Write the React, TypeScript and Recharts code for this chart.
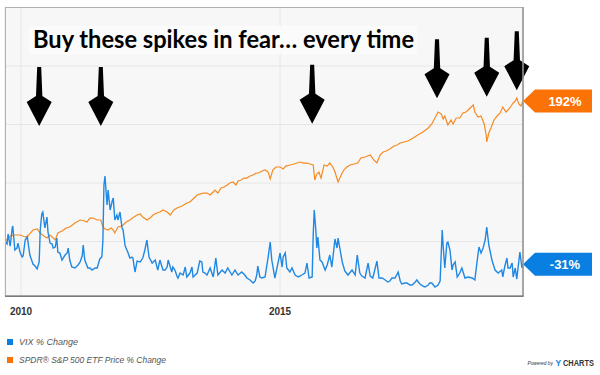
import React from 'react';
import { LineChart, Line, XAxis, YAxis, CartesianGrid, ReferenceDot } from 'recharts';

// ---------- data (decimal years, % change) ----------
const spxDates = [
  2009.69, 2009.79, 2009.88, 2009.98, 2010.08, 2010.13, 2010.23, 2010.31, 2010.37, 2010.44,
  2010.50, 2010.56, 2010.66, 2010.71, 2010.79, 2010.87, 2010.94, 2011.04, 2011.14, 2011.22,
  2011.27, 2011.33, 2011.39, 2011.47, 2011.54, 2011.58, 2011.62, 2011.68, 2011.74, 2011.78,
  2011.81, 2011.87, 2011.95, 2012.03, 2012.10, 2012.18, 2012.24, 2012.30, 2012.35, 2012.43,
  2012.49, 2012.55, 2012.62, 2012.68, 2012.74, 2012.82, 2012.88, 2012.95, 2013.01, 2013.11,
  2013.20, 2013.26, 2013.34, 2013.40, 2013.45, 2013.53, 2013.59, 2013.65, 2013.71, 2013.74,
  2013.80, 2013.86, 2013.92, 2013.98, 2014.03, 2014.09, 2014.15, 2014.19, 2014.25, 2014.30,
  2014.36, 2014.42, 2014.48, 2014.54, 2014.59, 2014.65, 2014.71, 2014.77, 2014.81, 2014.86,
  2014.92, 2015.00, 2015.06, 2015.11, 2015.19, 2015.27, 2015.33, 2015.39, 2015.46, 2015.52,
  2015.58, 2015.64, 2015.67, 2015.71, 2015.75, 2015.79, 2015.85, 2015.91, 2015.96, 2016.02,
  2016.06, 2016.12, 2016.18, 2016.23, 2016.29, 2016.35, 2016.43, 2016.50, 2016.56, 2016.64,
  2016.74, 2016.81, 2016.87, 2016.93, 2016.99, 2017.05, 2017.12, 2017.20, 2017.26, 2017.32,
  2017.39, 2017.47, 2017.57, 2017.66, 2017.76, 2017.86, 2017.93, 2017.99, 2018.05, 2018.11,
  2018.15, 2018.18, 2018.24, 2018.30, 2018.34, 2018.40, 2018.47, 2018.53, 2018.59, 2018.67,
  2018.73, 2018.76, 2018.82, 2018.88, 2018.94, 2018.98, 2018.99, 2019.03, 2019.07, 2019.13,
  2019.19, 2019.25, 2019.30, 2019.36, 2019.40, 2019.46, 2019.50, 2019.54, 2019.57, 2019.61,
  2019.65, 2019.69,
];
const spxValues = [
  0, 7.5, 8.9, 8.9, 6.2, 7.5, 15.7, 17.1, 11.6, 7.5,
  4.8, 8.9, 2.1, 11.6, 14.4, 18.5, 19.8, 25.3, 29.4, 28.0,
  26.7, 32.1, 32.1, 29.4, 29.4, 19.8, 17.1, 15.7, 18.5, 15.7,
  11.6, 19.8, 21.2, 26.7, 29.4, 33.5, 36.2, 37.6, 33.5, 29.4,
  32.1, 36.2, 39.0, 40.3, 43.1, 40.3, 36.2, 43.1, 45.8, 48.5,
  52.6, 54.0, 59.5, 63.6, 64.9, 66.3, 66.3, 63.6, 67.7, 70.4,
  66.3, 73.2, 74.5, 77.3, 80.0, 81.4, 77.3, 82.7, 84.1, 86.8,
  86.8, 89.6, 90.9, 93.7, 93.7, 96.4, 97.8, 95.0, 85.5, 97.8,
  101.9, 101.9, 99.1, 103.2, 104.6, 106.0, 107.3, 108.7, 107.3, 107.3,
  106.0, 104.6, 84.1, 92.3, 95.0, 86.8, 104.6, 103.2, 107.3, 101.9,
  95.0, 81.4, 90.9, 97.8, 101.9, 104.6, 106.0, 107.3, 114.2, 115.6,
  118.3, 111.5, 107.3, 118.3, 122.4, 123.8, 126.5, 130.6, 132.0, 134.7,
  136.1, 137.4, 141.5, 145.6, 149.7, 155.2, 160.7, 168.9, 177.1, 174.4,
  167.5, 171.6, 159.3, 166.2, 160.7, 168.9, 168.9, 175.7, 177.1, 182.6,
  186.7, 177.1, 170.3, 171.6, 160.7, 145.6, 136.1, 148.4, 155.2, 166.2,
  171.6, 175.7, 184.0, 177.1, 179.8, 185.3, 189.4, 192.1, 196.2, 188.0,
  185.3, 192,
];

const vixDates = [
  2009.69, 2009.73, 2009.75, 2009.79, 2009.83, 2009.84, 2009.88, 2009.92, 2009.94, 2009.98,
  2010.02, 2010.04, 2010.08, 2010.12, 2010.17, 2010.21, 2010.23, 2010.27, 2010.31, 2010.35,
  2010.37, 2010.40, 2010.42, 2010.46, 2010.50, 2010.52, 2010.56, 2010.60, 2010.62, 2010.66,
  2010.69, 2010.71, 2010.75, 2010.79, 2010.85, 2010.89, 2010.91, 2010.94, 2010.98, 2011.04,
  2011.10, 2011.14, 2011.18, 2011.20, 2011.23, 2011.29, 2011.33, 2011.37, 2011.43, 2011.47,
  2011.52, 2011.56, 2011.58, 2011.60, 2011.62, 2011.66, 2011.68, 2011.72, 2011.76, 2011.78,
  2011.81, 2011.85, 2011.87, 2011.91, 2011.95, 2011.97, 2012.01, 2012.06, 2012.10, 2012.14,
  2012.16, 2012.20, 2012.24, 2012.30, 2012.35, 2012.39, 2012.43, 2012.47, 2012.53, 2012.59,
  2012.64, 2012.68, 2012.74, 2012.78, 2012.82, 2012.84, 2012.91, 2012.93, 2012.97, 2013.01,
  2013.03, 2013.07, 2013.13, 2013.17, 2013.20, 2013.26, 2013.30, 2013.32, 2013.40, 2013.45,
  2013.49, 2013.51, 2013.55, 2013.59, 2013.65, 2013.71, 2013.76, 2013.80, 2013.88, 2013.94,
  2013.99, 2014.07, 2014.13, 2014.19, 2014.26, 2014.32, 2014.36, 2014.42, 2014.48, 2014.52,
  2014.55, 2014.57, 2014.61, 2014.65, 2014.71, 2014.77, 2014.81, 2014.84, 2014.90, 2014.96,
  2015.00, 2015.04, 2015.06, 2015.10, 2015.13, 2015.19, 2015.23, 2015.29, 2015.35, 2015.42,
  2015.48, 2015.52, 2015.56, 2015.62, 2015.64, 2015.66, 2015.69, 2015.71, 2015.73, 2015.77,
  2015.81, 2015.87, 2015.91, 2015.96, 2016.00, 2016.06, 2016.10, 2016.12, 2016.16, 2016.20,
  2016.25, 2016.31, 2016.39, 2016.45, 2016.49, 2016.54, 2016.58, 2016.64, 2016.70, 2016.74,
  2016.79, 2016.87, 2016.91, 2016.97, 2017.03, 2017.08, 2017.12, 2017.16, 2017.22, 2017.28,
  2017.32, 2017.35, 2017.41, 2017.45, 2017.51, 2017.55, 2017.61, 2017.64, 2017.70, 2017.76,
  2017.80, 2017.86, 2017.89, 2017.93, 2017.99, 2018.05, 2018.09, 2018.13, 2018.15, 2018.18,
  2018.22, 2018.24, 2018.28, 2018.32, 2018.34, 2018.38, 2018.42, 2018.47, 2018.51, 2018.57,
  2018.63, 2018.71, 2018.76, 2018.80, 2018.84, 2018.88, 2018.92, 2018.96, 2018.99, 2019.03,
  2019.05, 2019.09, 2019.15, 2019.21, 2019.28, 2019.30, 2019.34, 2019.38, 2019.40, 2019.44,
  2019.48, 2019.50, 2019.54, 2019.57, 2019.59, 2019.63, 2019.67, 2019.69,
];
const vixValues = [
  0, -3.4, 10.3, -6.2, 18.5, 21.2, -11.6, -8.9, -2.1, -14.4,
  -21.2, -19.8, 2.1, 6.2, -18.5, -26.7, -30.8, -33.5, -37.6, -28.0,
  15.7, 37.6, 40.3, 18.5, 33.5, 13.0, -2.1, -3.4, -8.9, -7.5,
  4.8, -14.4, -15.7, -25.3, -18.5, -15.7, -8.9, -25.3, -34.9, -36.2,
  -32.1, -28.0, -19.8, -4.8, -25.3, -36.2, -36.2, -39.0, -36.2, -36.2,
  -23.9, -21.2, 2.1, 77.3, 89.6, 49.9, 70.4, 43.1, 55.4, 59.5,
  29.4, 36.2, 29.4, 40.3, 18.5, 15.7, -6.2, -14.4, -22.6, -21.2,
  -22.6, -41.7, -26.7, -28.0, -22.6, -11.6, 2.1, -21.2, -29.4, -25.3,
  -39.0, -25.3, -39.0, -39.0, -34.9, -25.3, -41.7, -34.9, -39.0, -47.2,
  -49.9, -43.1, -45.8, -34.9, -48.5, -43.1, -34.9, -48.5, -43.1, -26.7,
  -28.0, -41.7, -43.1, -45.8, -36.2, -48.5, -22.6, -45.8, -39.0, -43.1,
  -36.2, -45.8, -39.0, -45.8, -41.7, -45.8, -49.9, -52.6, -56.8, -54.0,
  -45.8, -33.5, -48.5, -49.9, -48.5, -21.2, -0.7, -25.3, -49.9, -29.4,
  -15.7, -34.9, -21.2, -15.7, -36.2, -41.7, -36.2, -45.8, -48.5, -45.8,
  -43.1, -29.4, -49.9, -48.5, 8.9, 43.1, 15.7, -8.9, 6.2, -25.3,
  -28.0, -39.0, -32.1, -18.5, -34.9, 3.4, -8.9, 4.8, -11.6, -28.0,
  -40.3, -45.8, -39.0, -45.8, -18.5, -43.1, -47.2, -49.9, -29.4, -47.2,
  -49.9, -26.7, -49.9, -49.9, -52.6, -55.4, -54.0, -49.9, -49.9, -41.7,
  -54.0, -58.1, -56.8, -56.8, -59.5, -59.5, -55.4, -52.6, -58.1, -60.9,
  -62.2, -59.5, -56.8, -56.8, -62.2, -59.5, -54.0, 15.7, -7.5, -36.2,
  -2.1, -0.7, -11.6, -39.0, -32.1, -28.0, -48.5, -43.1, -36.2, -49.9,
  -48.5, -49.9, -52.6, -29.4, -7.5, -15.7, -8.9, 2.1, 19.8, -4.8,
  -11.6, -25.3, -39.0, -43.1, -39.0, -48.5, -33.5, -22.6, -36.2, -36.2,
  -29.4, -48.5, -36.2, -51.3, -39.0, -14.4, -36.2, -31,
];

const seriesNames = ['VIX % Change', 'SPDR\u00AE S&P 500 ETF Price % Change'];
const endLabels = ['-31%', '192%'];
const xDomain = [2009.69, 2019.69];
const xTicks = [2010, 2015];
const yDomain = [-74.5, 320];
const yTicks = [0, 80, 160, 240, 320];
const arrowDates = [2010.35, 2011.54, 2015.62, 2018.03, 2018.99, 2019.57];
const arrowTipValues = [158, 158, 161, 196, 198, 207];
const titleText = 'Buy these spikes in fear\u2026 every time';

// ---------- styles ----------
const BLUE_LINE = '#1f88e3';
const ORANGE_LINE = '#f68b22';
const BLUE_TAG = '#0a7fe2';
const ORANGE_TAG = '#fb7306';
const SANS = '"Liberation Sans", Arial, sans-serif';

const vixData = vixDates.map((t, i) => ({ t, v: vixValues[i] }));
const spxData = spxDates.map((t, i) => ({ t, v: spxValues[i] }));

const ArrowShape = (props: any) => {
  const { cx, cy } = props;
  if (cx == null || cy == null) return <g />;
  const pts = [
    [0, 0], [-12.5, -24], [-3.2, -30], [-2, -59], [2, -59], [3.2, -30], [12.5, -24],
  ].map(([dx, dy]) => `${cx + dx},${cy + dy}`).join(' ');
  return <polygon points={pts} fill="#000" />;
};

const makeTag = (color: string, text: string) => (props: any) => {
  const { cx, cy } = props;
  if (cx == null || cy == null) return <g />;
  const pts = [
    [0, 0], [12, -11.5], [69, -11.5], [69, 11.5], [12, 11.5],
  ].map(([dx, dy]) => `${cx + dx},${cy + dy}`).join(' ');
  return (
    <g>
      <polygon points={pts} fill={color} />
      <text x={cx + 42} y={cy + 4.6} textAnchor="middle" fill="#fff"
        fontFamily={SANS} fontWeight={700} fontSize={13}>{text}</text>
    </g>
  );
};

const XTick = (props: any) => {
  const { x, y, payload } = props;
  return (
    <text x={x} y={y + 19} textAnchor="middle" fill="#333" fontFamily={SANS}
      fontWeight={700} fontSize={10}>{String(payload.value)}</text>
  );
};

export default function App() {
  return (
    <div style={{ position: 'absolute', left: 0, top: 0, width: 600, height: 375, background: '#fff' }}>
      <LineChart width={600} height={375} margin={{ top: 7.5, right: 77, bottom: 59, left: 5 }}>
        <CartesianGrid fill="#f7f7f7" stroke="#e6e6e6" strokeWidth={1} />
        <XAxis type="number" dataKey="t" domain={xDomain} ticks={xTicks} allowDataOverflow
          axisLine={false} tickLine={false} tickSize={0} tickMargin={0} height={20}
          tick={<XTick />} />
        <YAxis type="number" dataKey="v" domain={yDomain} ticks={yTicks} hide allowDataOverflow />
        <Line data={spxData} dataKey="v" name={seriesNames[1]} type="linear" stroke={ORANGE_LINE}
          strokeWidth={1.2} dot={false} isAnimationActive={false} />
        <Line data={vixData} dataKey="v" name={seriesNames[0]} type="linear" stroke={BLUE_LINE}
          strokeWidth={1.4} dot={false} isAnimationActive={false} />
        {arrowDates.map((d, i) => (
          <ReferenceDot key={'a' + i} x={d} y={arrowTipValues[i]} r={0} ifOverflow="visible"
            shape={ArrowShape} />
        ))}
        <ReferenceDot x={spxDates[spxDates.length - 1]} y={spxValues[spxValues.length - 1]}
          r={0} ifOverflow="visible" shape={makeTag(ORANGE_TAG, endLabels[1])} />
        <ReferenceDot x={vixDates[vixDates.length - 1]} y={vixValues[vixValues.length - 1]}
          r={0} ifOverflow="visible" shape={makeTag(BLUE_TAG, endLabels[0])} />
      </LineChart>
      <svg width={600} height={375} style={{ position: 'absolute', left: 0, top: 0, pointerEvents: 'none' }}>
        {/* plot frame */}
        <rect x={5.5} y={7.5} width={517.5} height={288.5} fill="none" stroke="#b0b0b0" strokeWidth={1} />
        <line x1={523} y1={7} x2={523} y2={296.5} stroke="#8a8a8a" strokeWidth={1.2} />
        <line x1={5} y1={296.3} x2={523.5} y2={296.3} stroke="#7a7a7a" strokeWidth={1.5} />
        {/* title */}
        <rect x={29} y={26} width={388} height={28} fill="#fbfbfb" />
        <text x={33} y={48} fontFamily="Lato, 'Open Sans', sans-serif" fontWeight={700} fontSize={25}
          fill="#000" textLength={381} lengthAdjust="spacingAndGlyphs">{titleText}</text>
        {/* legend */}
        <rect x={7} y={339} width={6} height={6} fill={BLUE_TAG} />
        <text x={19} y={345} fontFamily={SANS} fontStyle="italic" fontSize={9} fill="#555">{seriesNames[0]}</text>
        <rect x={7} y={357} width={6} height={6} fill={ORANGE_TAG} />
        <text x={19} y={363} fontFamily={SANS} fontStyle="italic" fontSize={9} fill="#555"
          textLength={147} lengthAdjust="spacingAndGlyphs">{seriesNames[1]}</text>
        {/* powered by */}
        <text x={527.5} y={365} fontFamily={SANS} fontStyle="italic" fontSize={4.8} fill="#333">Powered by</text>
        <text x={555.5} y={366} fontFamily={SANS} fontWeight={700} fontSize={8.5} fill={BLUE_TAG}>Y</text>
        <text x={563} y={366} fontFamily={SANS} fontWeight={700} fontSize={8.5} fill="#333"
          textLength={31} lengthAdjust="spacingAndGlyphs">CHARTS</text>
      </svg>
    </div>
  );
}
